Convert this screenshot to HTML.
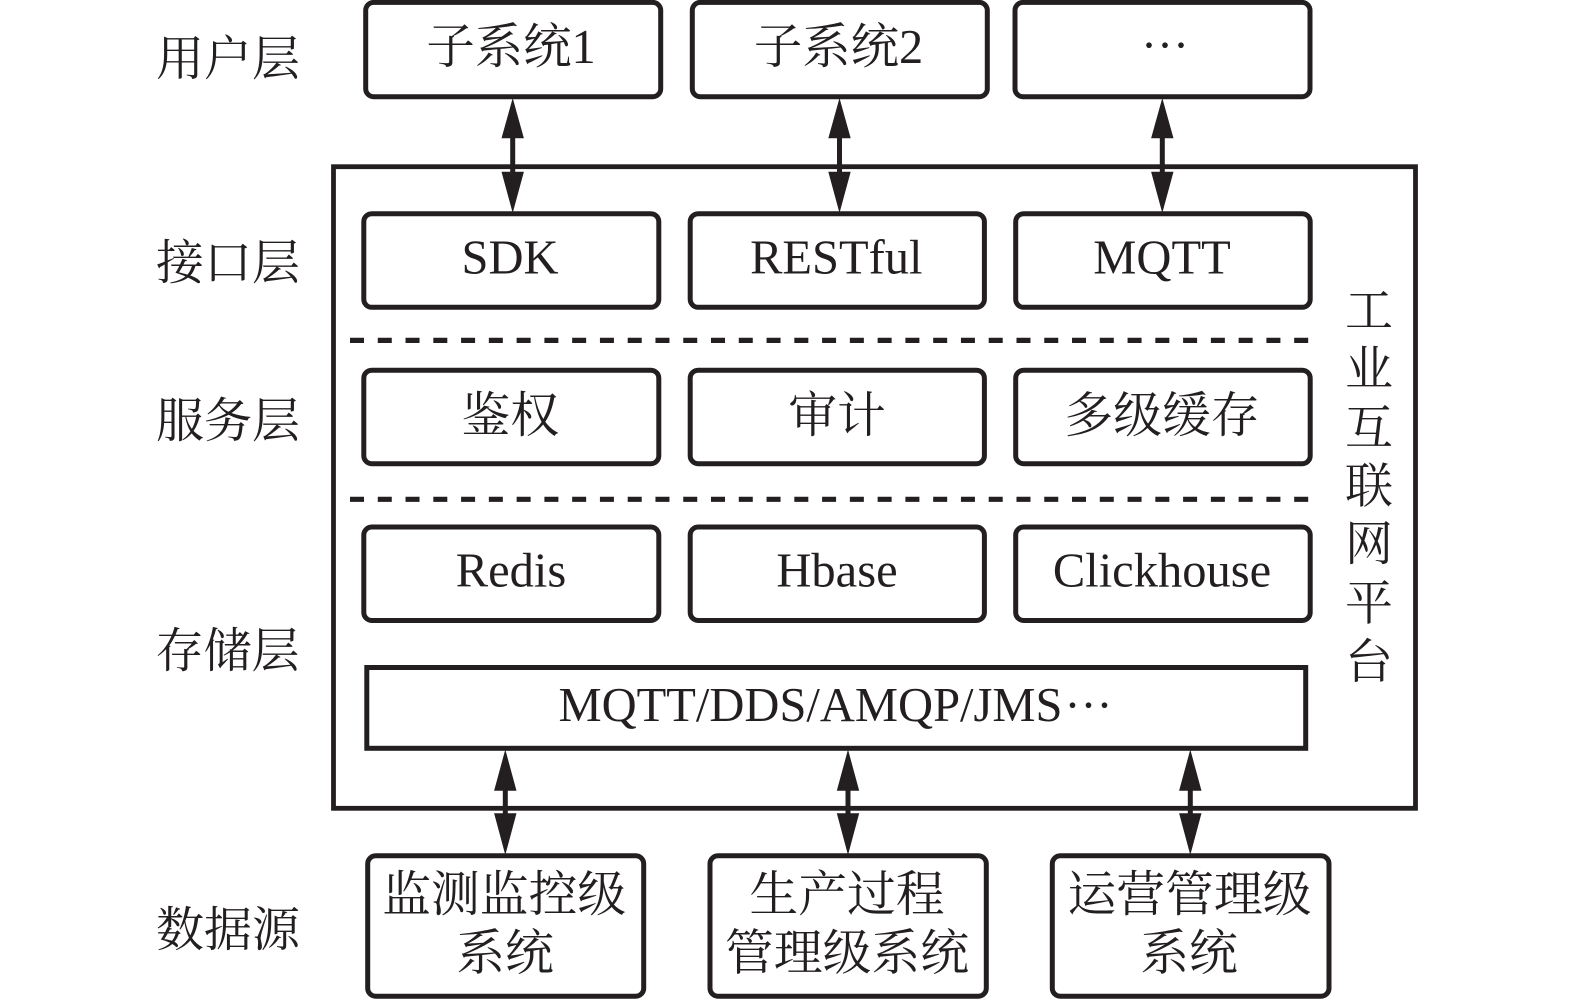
<!DOCTYPE html>
<html><head><meta charset="utf-8"><style>
html,body{margin:0;padding:0;background:#fff}
svg{display:block}
text{font-family:"Liberation Serif","Noto Serif CJK SC",serif;fill:#231f20;text-anchor:middle}
.b{fill:#fff;stroke:#231f20;stroke-width:5}
.c{font-size:48.8px}
.t{font-size:48.4px}
.d{font-size:48px}
.e{font-size:48.5px}
.l{font-size:48px}
.a{stroke:#231f20;stroke-width:5;fill:none}
.h{fill:#231f20}
</style></head><body>
<svg width="1575" height="999" viewBox="0 0 1575 999" xmlns="http://www.w3.org/2000/svg">
<rect x="333.5" y="166.7" width="1082" height="641.6" fill="#fff" stroke="#231f20" stroke-width="4.8"/>
<rect class="b" x="365.7" y="2.4" width="295" height="94.3" rx="8"/>
<rect class="b" x="692.3" y="2.4" width="295" height="94.3" rx="8"/>
<rect class="b" x="1015" y="2.4" width="295" height="94.3" rx="8"/>
<rect class="b" x="363.8" y="213.7" width="295" height="93.6" rx="8"/>
<rect class="b" x="690.2" y="213.7" width="294.2" height="93.6" rx="8"/>
<rect class="b" x="1015.7" y="213.7" width="294.5" height="93.6" rx="8"/>
<rect class="b" x="363.8" y="370.2" width="295" height="93.5" rx="8"/>
<rect class="b" x="690.2" y="370.2" width="294.2" height="93.5" rx="8"/>
<rect class="b" x="1015.7" y="370.2" width="294.5" height="93.5" rx="8"/>
<rect class="b" x="363.8" y="527" width="295" height="93.5" rx="8"/>
<rect class="b" x="690.2" y="527" width="294.2" height="93.5" rx="8"/>
<rect class="b" x="1015.7" y="527" width="294.5" height="93.5" rx="8"/>
<rect class="b" x="366.8" y="667.5" width="938.9" height="80.8"/>
<rect class="b" x="367.7" y="855.8" width="276" height="140.4" rx="8"/>
<rect class="b" x="710" y="855.8" width="276.3" height="140.4" rx="8"/>
<rect class="b" x="1052.3" y="855.8" width="276.7" height="140.4" rx="8"/>
<line x1="350" y1="340.4" x2="1308.3" y2="340.4" stroke="#231f20" stroke-width="5.2" stroke-dasharray="14 13.77"/>
<line x1="350" y1="499.3" x2="1308.3" y2="499.3" stroke="#231f20" stroke-width="5.2" stroke-dasharray="14 13.77"/>
<g>
<line class="a" x1="512.7" y1="130" x2="512.7" y2="180"/><path class="h" d="M512.7 98l-11.2 40.3h22.4zM512.7 213l-11.2-41.3h22.4z"/>
<line class="a" x1="839.5" y1="130" x2="839.5" y2="180"/><path class="h" d="M839.5 98l-11.2 40.3h22.4zM839.5 213l-11.2-41.3h22.4z"/>
<line class="a" x1="1162.3" y1="130" x2="1162.3" y2="180"/><path class="h" d="M1162.3 98l-11.2 40.3h22.4zM1162.3 213l-11.2-41.3h22.4z"/>
<line class="a" x1="505.3" y1="780" x2="505.3" y2="820"/><path class="h" d="M505.3 749.5l-11.2 41.2h22.4zM505.3 855l-11.2-41.7h22.4z"/>
<line class="a" x1="848" y1="780" x2="848" y2="820"/><path class="h" d="M848 749.5l-11.2 41.2h22.4zM848 855l-11.2-41.7h22.4z"/>
<line class="a" x1="1190.3" y1="780" x2="1190.3" y2="820"/><path class="h" d="M1190.3 749.5l-11.2 41.2h22.4zM1190.3 855l-11.2-41.7h22.4z"/>
</g>
<text class="l" x="228" y="75">用户层</text>
<text class="l" x="228" y="279">接口层</text>
<text class="l" x="228" y="437">服务层</text>
<text class="l" x="227.5" y="667">存储层</text>
<text class="l" x="228" y="946">数据源</text>
<text class="t" x="511" y="63.2">子系统1</text>
<text class="t" x="838.5" y="63.2">子系统2</text>
<text class="d" x="1165" y="61">···</text>
<text class="e" x="510" y="273.3">SDK</text>
<text class="e" x="836.3" y="273.3">RESTful</text>
<text class="e" x="1162" y="273.3">MQTT</text>
<text class="c" x="510.3" y="432.2">鉴权</text>
<text class="c" x="837" y="432.2">审计</text>
<text class="c" x="1162" y="432.2">多级缓存</text>
<text class="e" x="511" y="586.3">Redis</text>
<text class="e" x="837" y="586.3">Hbase</text>
<text class="e" x="1162" y="586.3">Clickhouse</text>
<text class="e" x="558.5" y="721" style="text-anchor:start" textLength="504" lengthAdjust="spacing">MQTT/DDS/AMQP/JMS</text>
<text class="d" x="1088.5" y="721">···</text>
<text class="c" x="504.2" y="911.2">监测监控级</text>
<text class="c" x="505" y="969.7">系统</text>
<text class="c" x="847" y="911.2">生产过程</text>
<text class="c" x="847" y="969.7">管理级系统</text>
<text class="c" x="1189.5" y="911.2">运营管理级</text>
<text class="c" x="1189" y="969.7">系统</text>
<text class="l" x="1369" y="327">工</text>
<text class="l" x="1369" y="385">业</text>
<text class="l" x="1369" y="444">互</text>
<text class="l" x="1369" y="502.5">联</text>
<text class="l" x="1369" y="560">网</text>
<text class="l" x="1369" y="619.5">平</text>
<text class="l" x="1369" y="678">台</text>
</svg>
</body></html>
